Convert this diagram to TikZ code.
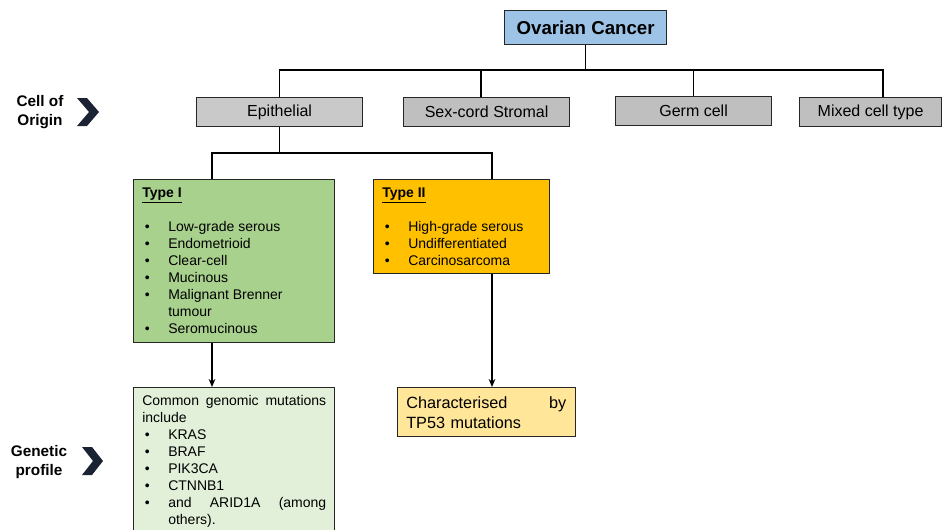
\documentclass[tikz,border=0pt]{standalone}
\usepackage{fontspec}
\setmainfont{Liberation Sans}
\usetikzlibrary{arrows.meta,calc}
\definecolor{cblue}{HTML}{9DC3E6}
\definecolor{cgrayA}{HTML}{C9C9C9}
\definecolor{cgrayB}{HTML}{BFBFBF}
\definecolor{cgreen}{HTML}{A9D18E}
\definecolor{corange}{HTML}{FFC000}
\definecolor{clgreen}{HTML}{E2F0D9}
\definecolor{clyellow}{HTML}{FFE699}
\definecolor{cchev}{HTML}{1A2233}
\newcommand{\blt}{\makebox[19.5pt][l]{\hspace{2pt}\textbullet}}
\begin{document}
\begin{tikzpicture}[x=0.75pt,y=-0.75pt,
  box/.style={draw=black!85, line width=0.9pt, inner sep=0pt, anchor=north west},
  sz/.style 2 args={minimum width=#1*0.75pt, minimum height=#2*0.75pt},
  lvl/.style={font=\fontsize{12}{14}\selectfont},
  txt/.style={inner sep=0pt, anchor=north west, align=left, font=\fontsize{10.5}{12.75}\selectfont},
  side/.style={inner sep=0pt, align=center, font=\fontsize{11.5}{14}\selectfont\bfseries},
  conn/.style={line width=1.1pt, black},
  arr/.style={conn, -{Stealth[length=6pt,width=5pt]}},
  chev/.style={fill=cchev}]
\clip (0,0) rectangle (943,529);
\useasboundingbox (0,0) rectangle (943,529);

% top
\node[box, sz={162}{34}, fill=cblue, font=\fontsize{14}{16}\selectfont\bfseries] (oc) at (504,10) {Ovarian Cancer};

% cell of origin level
\node[box, sz={166}{29}, fill=cgrayA, lvl] (epi) at (196,97) {Epithelial};
\node[box, sz={166}{29}, fill=cgrayB, lvl] (sex) at (403,97) {Sex-cord Stromal};
\node[box, sz={156}{29}, fill=cgrayB, lvl] (germ) at (615,96) {Germ cell};
\node[box, sz={142}{29}, fill=cgrayB, lvl] (mix) at (799,97) {Mixed cell type};

% type boxes
\node[box, sz={201}{163}, fill=cgreen] (t1) at (133,179) {};
\node[box, sz={176}{94}, fill=corange] (t2) at (373,179) {};
\node[txt] (t1t) at (142,188) {\underline{\textbf{Type I}}\\[12.75pt]
\blt Low-grade serous\\
\blt Endometrioid\\
\blt Clear-cell\\
\blt Mucinous\\
\blt Malignant Brenner\\
\hspace*{19.5pt}tumour\\
\blt Seromucinous};
\node[txt] (t2t) at (382,188) {\underline{\textbf{Type II}}\\[12.75pt]
\blt High-grade serous\\
\blt Undifferentiated\\
\blt Carcinosarcoma};

% genetic level
\node[box, sz={201}{170}, fill=clgreen] (gen) at (133,387) {};
\node[txt, text width=138pt] (gent) at (142,395) {Common\hfill genomic\hfill mutations\\
include\\
\blt KRAS\\
\blt BRAF\\
\blt PIK3CA\\
\blt CTNNB1\\
\blt and\hfill ARID1A\hfill (among\\
\hspace*{19.5pt}others).};
\node[box, sz={178}{49}, fill=clyellow] (tp) at (397,387) {};
\node[txt, text width=120pt, font=\fontsize{12.2}{15}\selectfont] (tpt) at (406,396) {Characterised\hfill by\\TP53 mutations};

% side labels
\node[side] (lab1) at (40,112) {Cell of\\Origin};
\node[side] (lab2) at (39,462) {Genetic\\profile};
\fill[chev] (77,98) -- (87,98) -- (99,112) -- (87,126) -- (77,126) -- (89,112) -- cycle;
\fill[chev] (82,447) -- (92,447) -- (103,461) -- (92,475) -- (82,475) -- (93,461) -- cycle;

% connectors
\coordinate (bus) at (0,70);
\coordinate (bus2) at (0,153);
\coordinate (sexd) at ($(sex.north west)+(78,0)$);
\coordinate (mixd) at ($(mix.north west)+(84,0)$);
\coordinate (t1d) at ($(t1.north west)+(79,0)$);
\coordinate (t2d) at ($(t2.north west)+(119,0)$);
\draw[conn] (oc.south) -- (oc.south |- bus);
\draw[conn] (epi.north) -- (epi.north |- bus) -- (bus -| mixd) -- (mixd);
\draw[conn] (sexd) -- (sexd |- bus);
\draw[conn] (germ.north) -- (germ.north |- bus);
\draw[conn] (epi.south) -- (epi.south |- bus2);
\draw[conn] (t1d) -- (t1d |- bus2) -- (bus2 -| t2d) -- (t2d);
\draw[arr] (t1.south -| t1d) -- (gen.north -| t1d);
\draw[arr] (t2.south -| t2d) -- (tp.north -| t2d);
\end{tikzpicture}
\end{document}
